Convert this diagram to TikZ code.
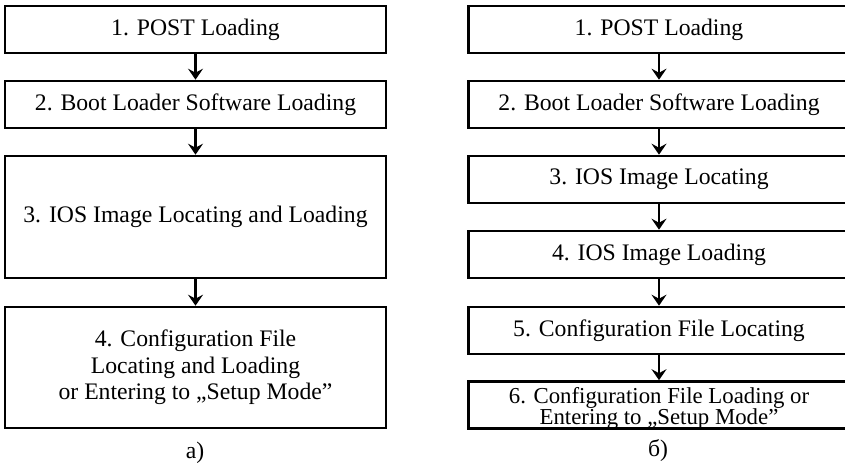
\documentclass[tikz,border=0pt]{standalone}
\usepackage{fontspec}
\setmainfont{Liberation Serif}
\usetikzlibrary{arrows.meta}
\newcommand\tightlines{\lineskiplimit=-30pt\relax}
\begin{document}
\begin{tikzpicture}[x=1pt,y=-1pt,
	stagebox/.style={draw, line width=2.6pt, minimum width=381pt, minimum height=47pt, inner sep=0pt, align=center, font=\fontsize{23.7}{26.5}\selectfont},
	flowarrow/.style={line width=2.6pt, -{Stealth[length=11pt,width=15pt,inset=4pt]}},
	caption/.style={anchor=base, font=\fontsize{23.7}{26}\selectfont}]
	%%%%% START %%%%%
	\useasboundingbox (0,0) rectangle (845,466);
	
	% a)
	\node[stagebox] (a1) at (195.5, 29.5) {1. POST Loading};
	\node[stagebox] (a2) at (195.5, 104.5) {2. Boot Loader Software Loading};
	\node[stagebox, minimum height=122pt] (a3) at (195.5, 217) {3. IOS Image Locating and Loading};
	\node[stagebox, minimum height=121pt] (a4) at (195.5, 367.5) {4. Configuration File\\Locating and Loading\\or Entering to „Setup Mode”};
	
	\draw[flowarrow] (a1) -- (a2);
	\draw[flowarrow] (a2) -- (a3);
	\draw[flowarrow] (a3) -- (a4);
	
	\node[caption] (alabel) at (195, 458) {а)};
	
	% б)
	\node[stagebox] (b1) at (659, 29.5) {1. POST Loading};
	\node[stagebox] (b2) at (659, 104.5) {2. Boot Loader Software Loading};
	\node[stagebox] (b3) at (659, 179.5) {3. IOS Image Locating};
	\node[stagebox] (b4) at (659, 254.5) {4. IOS Image Loading};
	\node[stagebox] (b5) at (659, 330.5) {5. Configuration File Locating};
	\node[stagebox] (b6) at (659, 405) {};
	\node[inner sep=0pt, align=center, font=\fontsize{22.8}{19}\selectfont] (b6text) at ([yshift=-3.5pt]b6.center) {\tightlines 6. Configuration File Loading or\\Entering to „Setup Mode”};
	
	\draw[flowarrow] (b1) -- (b2);
	\draw[flowarrow] (b2) -- (b3);
	\draw[flowarrow] (b3) -- (b4);
	\draw[flowarrow] (b4) -- (b5);
	\draw[flowarrow] (b5) -- (b6);
	
	\node[caption] (blabel) at (658, 456) {б)};
	
	%%%%% END %%%%%
\end{tikzpicture}
\end{document}
